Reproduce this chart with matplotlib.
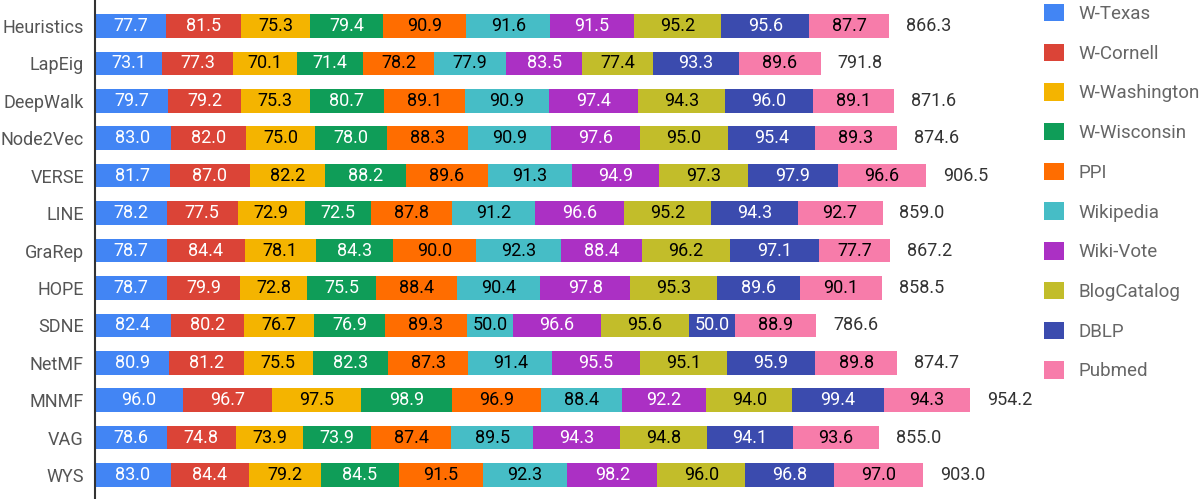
import numpy as np
import matplotlib.pyplot as plt
from matplotlib.patches import Patch

plt.rcParams['font.family'] = ['Roboto', 'DejaVu Sans']

methods = ['Heuristics', 'LapEig', 'DeepWalk', 'Node2Vec', 'VERSE', 'LINE', 'GraRep',
           'HOPE', 'SDNE', 'NetMF', 'MNMF', 'VAG', 'WYS']
datasets = ['W-Texas', 'W-Cornell', 'W-Washington', 'W-Wisconsin', 'PPI', 'Wikipedia',
            'Wiki-Vote', 'BlogCatalog', 'DBLP', 'Pubmed']

w_texas = [77.7, 73.1, 79.7, 83.0, 81.7, 78.2, 78.7, 78.7, 82.4, 80.9, 96.0, 78.6, 83.0]
w_cornell = [81.5, 77.3, 79.2, 82.0, 87.0, 77.5, 84.4, 79.9, 80.2, 81.2, 96.7, 74.8, 84.4]
w_washington = [75.3, 70.1, 75.3, 75.0, 82.2, 72.9, 78.1, 72.8, 76.7, 75.5, 97.5, 73.9, 79.2]
w_wisconsin = [79.4, 71.4, 80.7, 78.0, 88.2, 72.5, 84.3, 75.5, 76.9, 82.3, 98.9, 73.9, 84.5]
ppi = [90.9, 78.2, 89.1, 88.3, 89.6, 87.8, 90.0, 88.4, 89.3, 87.3, 96.9, 87.4, 91.5]
wikipedia = [91.6, 77.9, 90.9, 90.9, 91.3, 91.2, 92.3, 90.4, 50.0, 91.4, 88.4, 89.5, 92.3]
wiki_vote = [91.5, 83.5, 97.4, 97.6, 94.9, 96.6, 88.4, 97.8, 96.6, 95.5, 92.2, 94.3, 98.2]
blogcatalog = [95.2, 77.4, 94.3, 95.0, 97.3, 95.2, 96.2, 95.3, 95.6, 95.1, 94.0, 94.8, 96.0]
dblp = [95.6, 93.3, 96.0, 95.4, 97.9, 94.3, 97.1, 89.6, 50.0, 95.9, 99.4, 94.1, 96.8]
pubmed = [87.7, 89.6, 89.1, 89.3, 96.6, 92.7, 77.7, 90.1, 88.9, 89.8, 94.3, 93.6, 97.0]
totals = [866.3, 791.8, 871.6, 874.6, 906.5, 859.0, 867.2, 858.5, 786.6, 874.7, 954.2, 855.0, 903.0]

series = [w_texas, w_cornell, w_washington, w_wisconsin, ppi, wikipedia,
          wiki_vote, blogcatalog, dblp, pubmed]
colors = ['#4285f4', '#db4437', '#f4b400', '#0f9d58', '#ff6d00',
          '#46bdc6', '#ab30c4', '#c2bd2a', '#3b4bae', '#f77caa']
text_colors = ['white', 'white', 'black', 'white', 'black',
               'black', 'white', 'black', 'white', 'black']

fig = plt.figure(figsize=(12, 4.99), dpi=100)
ax = fig.add_axes([95 / 1200, 0, 917 / 1200, 1])

y = np.arange(len(methods))
left = np.zeros(len(methods))
for vals, col, tc in zip(series, colors, text_colors):
    vals = np.array(vals)
    bars = ax.barh(y, vals, left=left, height=0.63, color=col, linewidth=0)
    ax.bar_label(bars, labels=[f'{v:.1f}' for v in vals], label_type='center',
                 color=tc, fontsize=13)
    left += vals

for yi, x, t in zip(y, left, totals):
    ax.annotate(f'{t:.1f}', (x, yi), xytext=(12, 0), textcoords='offset points',
                va='center', ha='left', fontsize=13, color='#333333')

ax.set_xlim(0, 1000)
ax.set_ylim(12.64, -0.695)
ax.set_yticks(y)
ax.set_yticklabels(methods, fontsize=13, color='#555555')
ax.tick_params(axis='y', length=0, pad=8)
ax.set_xticks([])
for s in ['top', 'right', 'bottom']:
    ax.spines[s].set_visible(False)
ax.spines['left'].set_color('#333333')
ax.spines['left'].set_linewidth(1.5)

handles = [Patch(facecolor=c, edgecolor='none') for c in colors]
fig.legend(handles, datasets, loc='upper left', bbox_to_anchor=(1027 / 1200, 1.026),
           frameon=False, fontsize=13.5, handlelength=1.05, handleheight=1.05,
           labelspacing=1.1, handletextpad=0.8, labelcolor='#666666')

fig.savefig('out.png', dpi=100)
